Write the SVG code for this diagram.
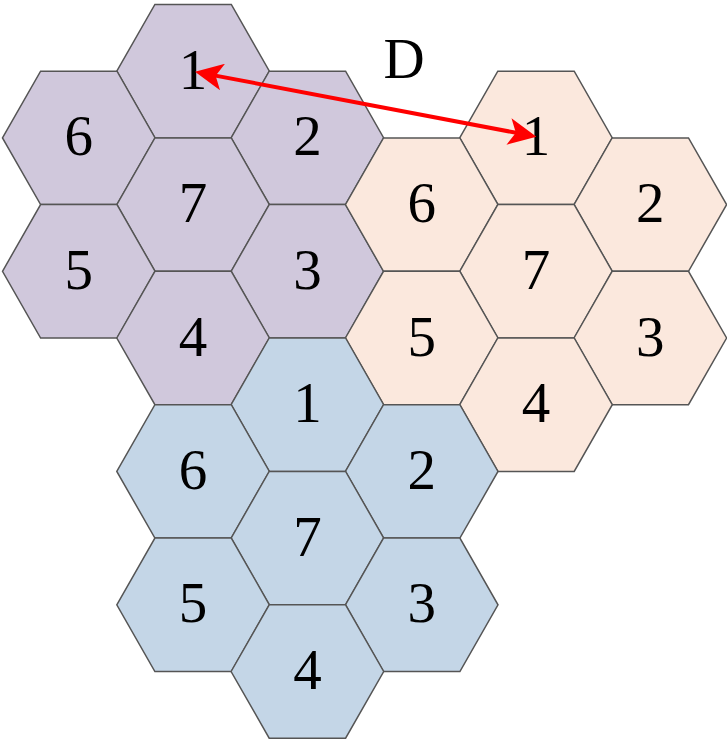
<svg xmlns="http://www.w3.org/2000/svg" xmlns:xlink="http://www.w3.org/1999/xlink" width="727" height="740" viewBox="0 0 727 740">
<style>
.hx{stroke:#555555;stroke-width:1.5}
.pu{fill:#D0C8DC}
.pe{fill:#FBE8DD}
.bl{fill:#C4D6E7}
text{font-family:"Liberation Serif","Times New Roman",serif;font-size:57px;fill:#000;text-anchor:middle}
</style>
<defs>
<polygon id="hex" points="-76.3,0 -38.2,-66.7 38.2,-66.7 76.3,0 38.2,66.7 -38.2,66.7"/>
<marker id="ah" viewBox="0 0 28 27" refX="10" refY="13.5" markerWidth="28" markerHeight="27" markerUnits="userSpaceOnUse" orient="auto-start-reverse">
<path d="M0,0 L28,13.5 L0,27 L7,13.5 Z" fill="#FF0000"/>
</marker>
</defs>
<g id="purple">
<g id="p1" transform="translate(193.1,71.2)"><use xlink:href="#hex" class="hx pu"/><text y="17.5">1</text></g>
<g id="p6" transform="translate(78.8,137.9)"><use xlink:href="#hex" class="hx pu"/><text y="17.5">6</text></g>
<g id="p2" transform="translate(307.4,137.9)"><use xlink:href="#hex" class="hx pu"/><text y="17.5">2</text></g>
<g id="p7" transform="translate(193.1,204.6)"><use xlink:href="#hex" class="hx pu"/><text y="17.5">7</text></g>
<g id="p5" transform="translate(78.8,271.3)"><use xlink:href="#hex" class="hx pu"/><text y="17.5">5</text></g>
<g id="p3" transform="translate(307.4,271.3)"><use xlink:href="#hex" class="hx pu"/><text y="17.5">3</text></g>
<g id="p4" transform="translate(193.1,338)"><use xlink:href="#hex" class="hx pu"/><text y="17.5">4</text></g>
</g>
<g id="peach">
<g id="e1" transform="translate(536,137.9)"><use xlink:href="#hex" class="hx pe"/><text y="17.5">1</text></g>
<g id="e6" transform="translate(421.7,204.6)"><use xlink:href="#hex" class="hx pe"/><text y="17.5">6</text></g>
<g id="e2" transform="translate(650.3,204.6)"><use xlink:href="#hex" class="hx pe"/><text y="17.5">2</text></g>
<g id="e7" transform="translate(536,271.3)"><use xlink:href="#hex" class="hx pe"/><text y="17.5">7</text></g>
<g id="e5" transform="translate(421.7,338)"><use xlink:href="#hex" class="hx pe"/><text y="17.5">5</text></g>
<g id="e3" transform="translate(650.3,338)"><use xlink:href="#hex" class="hx pe"/><text y="17.5">3</text></g>
<g id="e4" transform="translate(536,404.7)"><use xlink:href="#hex" class="hx pe"/><text y="17.5">4</text></g>
</g>
<g id="blue">
<g id="b1" transform="translate(307.4,404.7)"><use xlink:href="#hex" class="hx bl"/><text y="17.5">1</text></g>
<g id="b6" transform="translate(193.1,471.4)"><use xlink:href="#hex" class="hx bl"/><text y="17.5">6</text></g>
<g id="b2" transform="translate(421.7,471.4)"><use xlink:href="#hex" class="hx bl"/><text y="17.5">2</text></g>
<g id="b7" transform="translate(307.4,538.1)"><use xlink:href="#hex" class="hx bl"/><text y="17.5">7</text></g>
<g id="b5" transform="translate(193.1,604.8)"><use xlink:href="#hex" class="hx bl"/><text y="17.5">5</text></g>
<g id="b3" transform="translate(421.7,604.8)"><use xlink:href="#hex" class="hx bl"/><text y="17.5">3</text></g>
<g id="b4" transform="translate(307.4,671.5)"><use xlink:href="#hex" class="hx bl"/><text y="17.5">4</text></g>
</g>
<g id="connectors">
<line x1="212.7" y1="75.1" x2="518.8" y2="133.3" stroke="#FF0000" stroke-width="4" marker-start="url(#ah)" marker-end="url(#ah)"/>
<text id="label-D" x="404" y="78">D</text>
</g>
</svg>
